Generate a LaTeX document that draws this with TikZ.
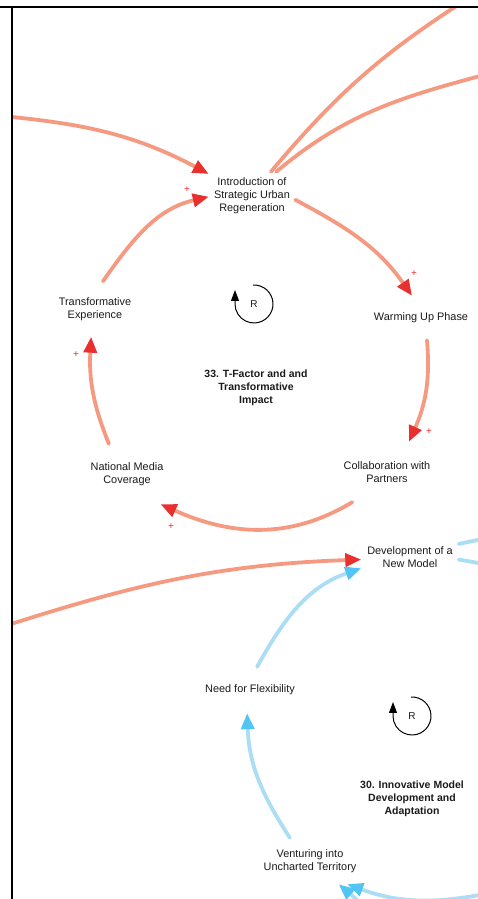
\documentclass[tikz,border=0pt]{standalone}
\usepackage{fontspec}
\setmainfont{Liberation Sans}
\usetikzlibrary{arrows.meta}

\definecolor{linkred}{HTML}{F59A80}
\definecolor{tipred}{HTML}{E8302F}
\definecolor{linkblue}{HTML}{ABDDF5}
\definecolor{tipblue}{HTML}{52C5F2}
\definecolor{labelgray}{HTML}{1A1A1A}

\begin{document}
\begin{tikzpicture}[
            x=1pt, y=1pt,
            varnode/.style={rectangle, align=center, text=labelgray, inner sep=0pt, font=\fontsize{10.9}{13}\selectfont},
            loopname/.style={align=center, text=labelgray, font=\fontsize{10.5}{13}\selectfont\bfseries},
            polarity/.style={text=tipred, inner sep=0pt, font=\fontsize{10}{10}\selectfont},
            redlink/.style={draw=linkred, line width=3.8pt, line cap=round},
            bluelink/.style={draw=linkblue, line width=3.8pt, line cap=round},
            redtip/.style={-{Triangle[length=16pt,width=13pt,color=tipred]}},
            bluetip/.style={-{Triangle[length=16pt,width=13pt,color=tipblue]}},
            loopsign/.style={draw=black, line width=1pt, -{Triangle[length=11pt,width=8pt]}},
        ]
            \useasboundingbox (0,0) rectangle (478,899);

            % Nodes, upper loop
            \node[varnode, minimum width=86pt, minimum height=48pt] (intro) at (252,703) {Introduction of\\Strategic Urban\\Regeneration};
            \node[varnode, minimum width=100pt, minimum height=44pt] (warm) at (421,581) {Warming Up Phase};
            \node[varnode, minimum width=92pt, minimum height=60pt] (collab) at (387,427) {Collaboration with\\Partners};
            \node[varnode, minimum width=80pt, minimum height=60pt] (media) at (127,425) {National Media\\Coverage};
            \node[varnode, minimum width=80pt, minimum height=55pt] (transf) at (95,590) {Transformative\\Experience};
            \node[loopname] (loopA) at (256,511) {33. T-Factor and and\\Transformative\\Impact};
            \node[font=\fontsize{10}{10}\selectfont, text=labelgray] (rA) at (254,595) {R};

            % Nodes, lower loop
            \node[varnode, minimum width=97pt, minimum height=30pt] (devel) at (410,342) {Development of a\\New Model};
            \node[varnode, minimum width=100pt, minimum height=46pt] (flex) at (250,209) {Need for Flexibility};
            \node[varnode, minimum width=100pt, minimum height=46pt] (venture) at (310,38) {Venturing into\\Uncharted Territory};
            \node[loopname] (loopB) at (412,100) {30. Innovative Model\\Development and\\Adaptation};
            \node[font=\fontsize{10}{10}\selectfont, text=labelgray] (rB) at (412,183) {R};

            % Polarity marks
            \node[polarity] (pA) at (187,709) {+};
            \node[polarity] (pB) at (414,625) {+};
            \node[polarity] (pC) at (429,467) {+};
            \node[polarity] (pD) at (171,372) {+};
            \node[polarity] (pE) at (76,544) {+};

            % Loop signs
            \draw[loopsign] (rA.center) ++(93:19pt) arc[start angle=93, end angle=-180, radius=19pt] -- ++(0,14);
            \draw[loopsign] (rB.center) ++(93:19pt) arc[start angle=93, end angle=-180, radius=19pt] -- ++(0,14);

            % Ends of links that leave the frame
            \coordinate (westA) at (-20,785);
            \coordinate (westB) at (-20,265);
            \coordinate (topC) at (480,908);
            \coordinate (eastD) at (495,827);
            \coordinate (eastE) at (505,364);
            \coordinate (eastF) at (505,330);
            \coordinate (southG) at (500,8);
            \coordinate (southH) at (372,-14);

            \begin{scope}
                \clip (12,0) rectangle (478,892);
                % Lines, upper loop
                \draw[redlink, redtip] (intro.-5) to[out=-28, in=125] (warm.112);
                \draw[redlink, redtip] (warm.-75) to[out=-85, in=66] (collab.54);
                \draw[redlink, redtip] (collab.-139) to[out=-149, in=-24] (media.-42);
                \draw[redlink, redtip] (media.121) to[out=112, in=-93] (transf.-98);
                \draw[redlink, redtip] (transf.74) to[out=55, in=193] (intro.181);
                % Lines in and out of the upper loop
                \draw[redlink, redtip] (westA) to[out=-5, in=152] (intro.153);
                \draw[redlink] (intro.52) to[out=50, in=212] (topC);
                \draw[redlink] (intro.45) to[out=40, in=195] (eastD);
                \draw[redlink, redtip] (westB) to[out=18, in=182] (devel.183);
                % Lines, lower loop
                \draw[bluelink, bluetip] (flex.73) to[out=61, in=199] (devel.193);
                \draw[bluelink, bluetip] (venture.131) to[out=123, in=-88] (flex.-97);
                \draw[bluelink] (devel.15) to[out=12, in=190] (eastE);
                \draw[bluelink] (devel.-3) to[out=-10, in=165] (eastF);
                \draw[bluelink, bluetip] (southG) to[out=192, in=-20] (venture.-32);
                \draw[bluelink, bluetip] (southH) to[out=140, in=-40] (venture.-39);
            \end{scope}

            % Frame
            \draw[line width=2pt] (0,892) -- (478,892);
            \draw[line width=2pt] (12,892) -- (12,0);
        \end{tikzpicture}
\end{document}
